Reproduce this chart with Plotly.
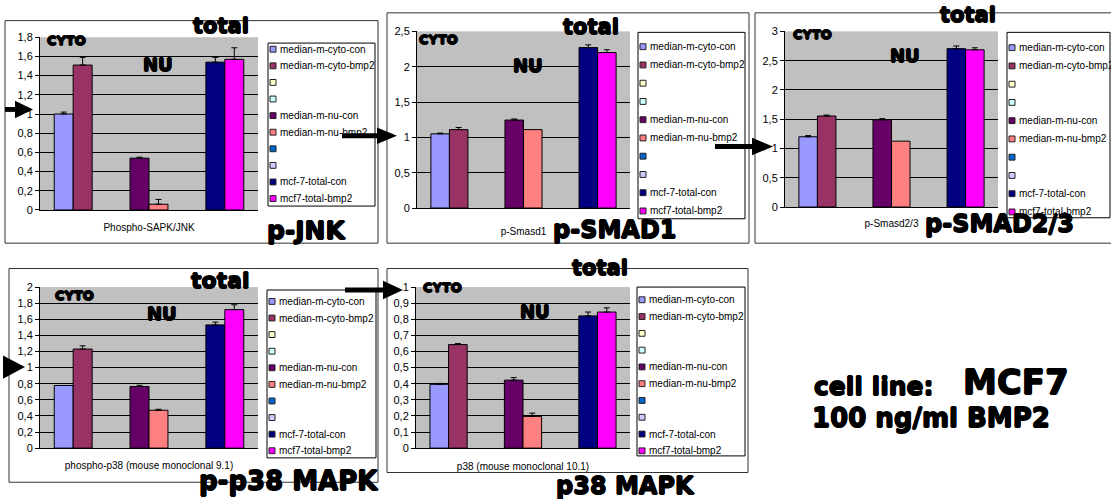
import plotly.graph_objects as go

W, H = 1111, 499

# ---------------- data ----------------
series_names = ["median-m-cyto-con", "median-m-cyto-bmp2", "", "", "median-m-nu-con",
                "median-m-nu-bmp2", "", "", "mcf-7-total-con", "mcf7-total-bmp2"]

panel_titles = ["p-JNK", "p-SMAD1", "p-SMAD2/3", "p-p38 MAPK", "p38 MAPK"]
panel_categories = ["Phospho-SAPK/JNK", "p-Smasd1", "p-Smasd2/3",
                    "phospho-p38 (mouse monoclonal 9.1)", "p38 (mouse monoclonal 10.1)"]

jnk_values = [1.00, 1.51, None, None, 0.54, 0.06, None, None, 1.54, 1.57]
jnk_errors = [0.02, 0.08, None, None, 0.01, 0.05, None, None, 0.05, 0.12]

smad1_values = [1.05, 1.11, None, None, 1.245, 1.11, None, None, 2.27, 2.20]
smad1_errors = [0.01, 0.03, None, None, 0.015, 0.0, None, None, 0.04, 0.04]

smad23_values = [1.20, 1.555, None, None, 1.49, 1.125, None, None, 2.705, 2.685]
smad23_errors = [0.02, 0.015, None, None, 0.02, 0.0, None, None, 0.045, 0.035]

pp38_values = [0.778, 1.23, None, None, 0.765, 0.47, None, None, 1.53, 1.72]
pp38_errors = [0.0, 0.04, None, None, 0.015, 0.012, None, None, 0.035, 0.06]

p38_values = [0.396, 0.643, None, None, 0.422, 0.197, None, None, 0.821, 0.845]
p38_errors = [0.006, 0.006, None, None, 0.016, 0.02, None, None, 0.024, 0.026]

y_max = [1.8, 2.5, 3, 2, 1]
y_step = [0.2, 0.5, 0.5, 0.2, 0.1]

panel_values = [jnk_values, smad1_values, smad23_values, pp38_values, p38_values]
panel_errors = [jnk_errors, smad1_errors, smad23_errors, pp38_errors, p38_errors]

note_line1 = "cell line:"
note_cell = "MCF7"
note_line2 = "100 ng/ml BMP2"

# ---------------- styles / layout geometry (pixels) ----------------
series_colors = ["#9999FF", "#993366", "#FFFFCC", "#CCFFFF", "#660066",
                 "#FF8080", "#0066CC", "#CCCCFF", "#000080", "#FF00FF"]

plot_boxes = [(40, 258, 32, 209), (417, 630, 26, 207), (785, 998, 26, 206),
              (40, 258, 288, 453), (416, 630, 288, 453)]
frames = [(5, 378, 15, 243), (387, 749, 7, 243), (755, 1115, 7, 243),
          (9, 378, 269, 488), (387, 748, 269, 478)]
legend_boxes = [(268, 375, 38, 205, 44.3, 17.0), (638, 745, 27, 218, 41.7, 18.7),
                (1007, 1110, 27, 217, 42.7, 18.7), (267, 376, 291, 463, 302.7, 17.0),
                (637, 745, 288, 461, 301.0, 17.2)]
cat_standoff = [8, 14, 7, 8, 9]

# label positions (center px, size)
total_pos = [(221, 20, 21), (591, 22, 21), (968, 9, 21), (220, 281, 22), (600, 268, 21)]
cyto_pos = [(66, 35, 13), (438, 34, 13), (812, 29, 13), (74, 297, 13), (442, 288, 13)]
nu_pos = [(158, 60, 18), (528, 61, 18), (905, 51, 18), (162, 315, 18), (535, 313, 18)]
title_pos = [(306, 230, 25), (615, 230, 24), (999, 223, 24), (288, 487, 26), (625, 492, 24)]

BIG = "DejaVu Sans"
SMALL = "Arial, Liberation Sans, sans-serif"
HEAVY = ("0.7px 0 0 black, -0.7px 0 0 black, 0 0.7px 0 black, 0 -0.7px 0 black")


def px(x):
    return x / W


def py(y):
    return 1 - y / H


def big_font(size):
    return dict(family=BIG, size=size, color="black", weight="bold", shadow=HEAVY)


fig = go.Figure()
layout = dict(
    width=W, height=H, margin=dict(l=0, r=0, t=0, b=0),
    paper_bgcolor="white", plot_bgcolor="#C0C0C0",
    barmode="overlay", showlegend=False, separators=", ",
    font=dict(family=SMALL, color="black", size=10),
)
shapes = []
annotations = []

for k in range(5):
    xa = "x" if k == 0 else f"x{k + 1}"
    ya = "y" if k == 0 else f"y{k + 1}"
    x0, x1, y0, y1 = plot_boxes[k]
    vals = panel_values[k]
    errs = panel_errors[k]
    for j, v in enumerate(vals):
        if v is None:
            continue
        e = errs[j]
        fig.add_trace(go.Bar(
            x=[j], y=[v], width=[1.0], xaxis=xa, yaxis=ya,
            name=series_names[j],
            marker=dict(color=series_colors[j], line=dict(color="black", width=1)),
            error_y=dict(type="data", array=[e], arrayminus=[0], symmetric=False,
                         visible=bool(e and e > 0), color="black", thickness=1, width=3),
            hoverinfo="skip",
        ))
    layout["xaxis" if k == 0 else f"xaxis{k + 1}"] = dict(
        domain=[px(x0), px(x1)], range=[-1.25, len(vals) - 1 + 1.25],
        anchor=ya, tickvals=[(len(vals) - 1) / 2], ticktext=[panel_categories[k]],
        ticks="", showline=True, linecolor="black", linewidth=1,
        showgrid=False, zeroline=False, fixedrange=True,
        tickfont=dict(family=SMALL, size=10, color="black"),
        ticklabelstandoff=cat_standoff[k],
    )
    layout["yaxis" if k == 0 else f"yaxis{k + 1}"] = dict(
        domain=[py(y1), py(y0)], range=[0, y_max[k]], anchor=xa,
        tick0=0, dtick=y_step[k], ticks="outside", ticklen=4, tickcolor="black",
        showline=True, linecolor="black", linewidth=1,
        showgrid=True, gridcolor="black", gridwidth=1, zeroline=False,
        fixedrange=True, tickfont=dict(family=SMALL, size=11, color="black"),
    )

    # outer chart frame
    fx0, fx1, fy0, fy1 = frames[k]
    shapes.append(dict(type="rect", xref="paper", yref="paper", layer="below",
                       x0=px(fx0), x1=px(fx1), y0=py(fy1), y1=py(fy0),
                       line=dict(color="#333333", width=1), fillcolor="rgba(0,0,0,0)"))
    # legend
    lx0, lx1, ly0, ly1, first, step = legend_boxes[k]
    shapes.append(dict(type="rect", xref="paper", yref="paper", layer="below",
                       x0=px(lx0), x1=px(lx1), y0=py(ly1), y1=py(ly0),
                       line=dict(color="black", width=1), fillcolor="white"))
    for j, name in enumerate(series_names):
        cy = first + j * step
        shapes.append(dict(type="rect", xref="paper", yref="paper", layer="above",
                           x0=px(lx0 + 2), x1=px(lx0 + 8), y0=py(cy + 3), y1=py(cy - 3),
                           line=dict(color="#222222", width=1), fillcolor=series_colors[j]))
        if name:
            annotations.append(dict(xref="paper", yref="paper", x=px(lx0 + 10), y=py(cy),
                                    xanchor="left", yanchor="middle", showarrow=False,
                                    text=name, font=dict(family=SMALL, size=10, color="black")))

    for (tx, ty, ts), txt in [(total_pos[k], "total"), (cyto_pos[k], "CYTO"),
                              (nu_pos[k], "NU"), (title_pos[k], panel_titles[k])]:
        annotations.append(dict(xref="paper", yref="paper", x=px(tx), y=py(ty),
                                xanchor="center", yanchor="middle", showarrow=False,
                                text=txt, font=big_font(ts)))

annotations.append(dict(xref="paper", yref="paper", x=px(874), y=py(390), xanchor="center",
                        yanchor="middle", showarrow=False, text=note_line1,
                        font=big_font(25)))
annotations.append(dict(xref="paper", yref="paper", x=px(1016), y=py(385), xanchor="center",
                        yanchor="middle", showarrow=False, text=note_cell,
                        font=big_font(34)))
annotations.append(dict(xref="paper", yref="paper", x=px(931), y=py(422), xanchor="center",
                        yanchor="middle", showarrow=False, text=note_line2,
                        font=big_font(26)))

# arrows: (shaft x0, shaft x1, y, head base x, tip x, half height)
arrows = [(5, 17, 106, 15, 33, 9), (342, 379, 133, 377, 397, 8.5),
          (715, 754, 144, 752, 773, 9), (None, None, 370, 3, 25, 12),
          (345, 385, 291, 383, 403, 9.5)]
for sx0, sx1, ay, hb, tip, hh in arrows:
    if sx0 is not None:
        shapes.append(dict(type="rect", xref="paper", yref="paper", layer="above",
                           x0=px(sx0), x1=px(sx1), y0=py(ay + 2.5), y1=py(ay - 2.5),
                           line=dict(width=0), fillcolor="black"))
    path = (f"M {px(hb)} {py(ay - hh)} L {px(tip)} {py(ay)} "
            f"L {px(hb)} {py(ay + hh)} Z")
    shapes.append(dict(type="path", xref="paper", yref="paper", layer="above",
                       path=path, line=dict(width=0), fillcolor="black"))

layout["shapes"] = shapes
layout["annotations"] = annotations
fig.update_layout(**layout)
fig.write_html(
    "out.html",
    config={"displayModeBar": False},
    post_script="document.body.style.margin='0';document.body.style.padding='0';"
                "document.body.style.overflow='hidden';",
)
